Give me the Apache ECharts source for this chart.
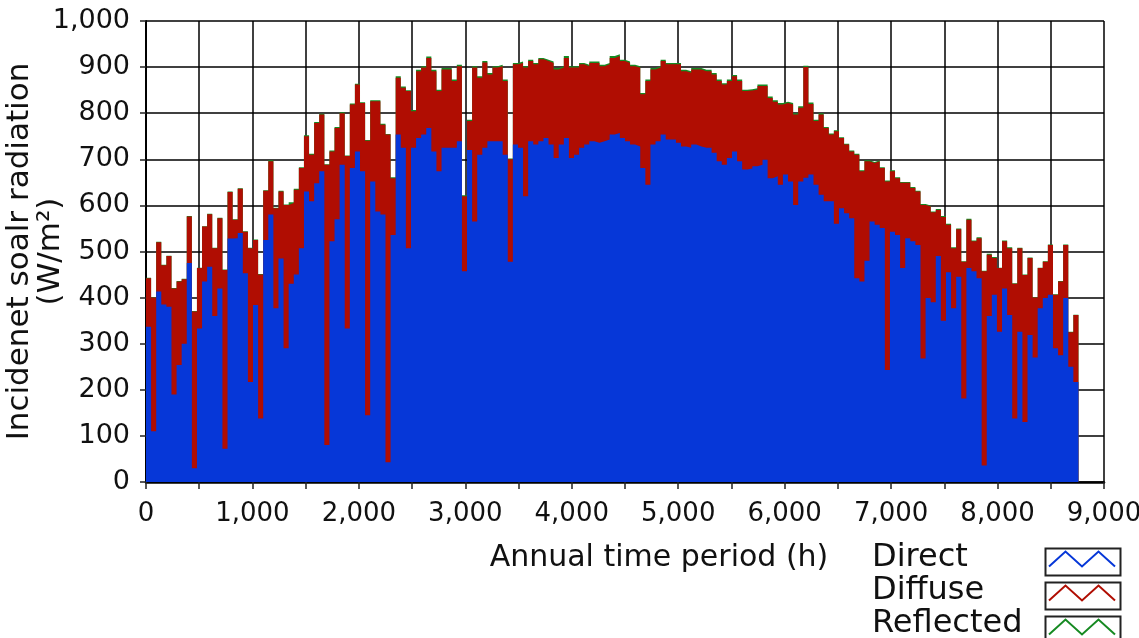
<!DOCTYPE html>
<html>
<head>
<meta charset="utf-8">
<script src="https://cdn.jsdelivr.net/npm/echarts@6/dist/echarts.min.js"></script>
<style>
html,body{margin:0;padding:0;background:#fff;}
#chart{width:1139px;height:638px;}
</style>
</head>
<body>
<div id="chart"></div>
<script>
// Annual hourly period, sampled in 183 consecutive bins of ~48 h (0 .. 8760 h)
const yearHours = 8760;
const seriesNames = ['Direct', 'Diffuse', 'Reflected'];
const xTicks = [0, 1000, 2000, 3000, 4000, 5000, 6000, 7000, 8000, 9000];
const yTicks = [0, 100, 200, 300, 400, 500, 600, 700, 800, 900, 1000];

// Direct radiation per bin (W/m2)
const direct = [
337,110,413,385,380,190,254,300,475,30,
333,435,467,360,420,72,528,529,540,453,
217,384,138,525,580,377,485,290,430,450,
507,630,609,648,674,80,522,570,688,333,
681,717,674,145,652,587,580,43,536,754,
725,507,725,746,754,768,717,674,725,725,
725,739,457,720,565,710,725,739,739,739,
710,478,732,725,620,739,732,739,746,732,
703,732,746,703,710,725,732,739,736,739,
743,754,757,746,739,732,728,681,645,732,
739,754,743,743,736,728,725,732,728,725,
725,714,696,688,703,717,696,678,680,685,
688,699,659,663,645,667,652,601,652,660,
667,645,623,609,609,560,594,583,572,442,
435,480,565,558,551,243,543,536,464,529,
522,514,268,399,390,490,350,455,377,445,
181,464,457,442,36,360,406,326,420,362,
138,326,130,319,270,377,399,406,290,275,
399,250,217];

// Diffuse radiation per bin (W/m2)
const diffuse = [
105,290,107,85,110,230,181,140,101,340,
131,119,114,147,152,388,101,40,96,90,
290,141,312,107,116,217,145,311,175,184,
174,120,101,131,123,608,195,198,112,374,
138,145,148,595,174,239,195,711,123,123,
130,341,79,145,145,152,174,174,170,170,
145,163,163,63,334,167,185,145,160,163,
160,222,174,184,279,174,174,178,167,177,
192,167,174,196,189,181,170,170,173,163,
163,166,167,167,170,170,171,160,225,163,
160,159,163,163,170,163,163,163,167,166,
166,170,174,174,167,163,174,170,169,166,
171,160,174,162,174,155,167,196,160,240,
153,138,174,159,145,201,152,149,145,268,
239,216,127,138,130,409,131,123,185,120,
116,116,333,199,195,100,225,103,130,103,
297,105,65,87,421,133,80,138,102,145,
292,181,319,167,130,87,79,108,116,160,
115,75,145];

// Reflected radiation per bin (W/m2)
const reflected = [
1,1,1,1,1,1,1,1,1,1,
1,1,1,1,1,1,1,1,1,1,
1,1,1,1,2,1,2,1,2,2,
2,2,2,2,2,1,2,2,2,1,
2,2,2,2,2,2,2,1,2,3,
3,2,3,3,3,3,3,3,3,3,
3,3,2,3,3,3,3,3,3,3,
3,2,3,3,3,3,3,3,3,3,
3,3,4,3,3,3,3,3,3,3,
3,4,4,3,3,3,3,3,3,3,
3,3,3,3,3,3,3,3,3,3,
3,3,3,3,3,3,3,3,3,3,
3,3,3,3,3,3,3,3,3,3,
3,3,3,2,2,2,2,2,2,2,
2,2,2,2,2,2,2,2,2,2,
2,2,2,2,2,2,2,2,2,2,
1,2,2,2,1,2,2,1,2,2,
1,1,1,1,1,1,1,1,1,1,
1,1,1];

const colors = { Direct: '#0637d8', Diffuse: '#b00d02', Reflected: '#168a22' };
const FONT = 'DejaVu Sans';

// bin start hours
const nBins = direct.length;
const binLen = yearHours / nBins;
function buildLine(levels) {
  const pts = [];
  for (let k = 0; k < nBins; k++) {
    pts.push([k * binLen, levels[k]]);
  }
  pts.push([yearHours, levels[nBins - 1]]);
  return pts;
}
// cumulative levels (areas drawn overlapping from zero)
const lvlDirect = direct.slice();
const lvlDiffuse = direct.map((v, i) => v + diffuse[i]);
const lvlReflected = lvlDiffuse.map((v, i) => v + reflected[i]);

function fmt(v) { return v.toLocaleString('en-US'); }

const chart = echarts.init(document.getElementById('chart'), null, { renderer: 'canvas' });

const zig = 'path://M0,14 L8,2 L16,14 L24,2 L32,14';

const option = {
  animation: false,
  backgroundColor: '#ffffff',
  textStyle: { fontFamily: FONT },
  grid: { left: 146, right: 35, top: 21, bottom: 156, containLabel: false, outerBoundsMode: 'none' },
  xAxis: {
    type: 'value', min: xTicks[0], max: xTicks[xTicks.length - 1], interval: 500,
    name: 'Annual time period (h)', nameLocation: 'middle', nameGap: 61, nameMoveOverlap: false,
    nameTextStyle: { fontFamily: FONT, fontSize: 30, color: '#111', padding: [0, 0, 0, 68] },
    axisLine: { show: true, onZero: false, lineStyle: { color: '#000', width: 2.5 } },
    axisTick: { show: true, length: 7, lineStyle: { color: '#222', width: 1.5 } },
    axisLabel: {
      fontFamily: FONT, fontSize: 26, color: '#111', margin: 19,
      formatter: v => (xTicks.indexOf(v) >= 0 ? fmt(v) : '')
    },
    splitLine: { show: true, lineStyle: { color: '#000', width: 1.5 } }
  },
  yAxis: {
    type: 'value', min: yTicks[0], max: yTicks[yTicks.length - 1], interval: 100,
    name: 'Incidenet soalr radiation\n(W/m\u00B2)', nameLocation: 'middle', nameGap: 80, nameRotate: 90,
    nameMoveOverlap: false,
    nameTextStyle: { fontFamily: FONT, fontSize: 31, lineHeight: 31, color: '#111' },
    axisLine: { show: true, lineStyle: { color: '#000', width: 2 } },
    axisTick: { show: true, length: 6, lineStyle: { color: '#222', width: 1.5 } },
    axisLabel: { fontFamily: FONT, fontSize: 27, color: '#111', margin: 16, formatter: v => fmt(v) },
    splitLine: { show: true, lineStyle: { color: '#000', width: 1.5 } }
  },
  legend: [
    {
      data: seriesNames, orient: 'vertical', left: 866, top: 541, height: 120, padding: 0, itemGap: 0,
      selectedMode: false, icon: 'rect', itemWidth: 1, itemHeight: 14,
      itemStyle: { color: 'rgba(0,0,0,0)', borderWidth: 0 },
      textStyle: { fontFamily: FONT, fontSize: 32, lineHeight: 33, color: '#111' }
    },
    {
      data: seriesNames.map(n => ({
        name: n, icon: zig,
        itemStyle: { color: 'rgba(0,0,0,0)', borderColor: colors[n], borderWidth: 2 }
      })),
      orient: 'vertical', left: 1048, top: 542, height: 120, padding: 0, itemGap: 0, selectedMode: false,
      itemWidth: 66, itemHeight: 15, symbolKeepAspect: false,
      textStyle: { fontFamily: FONT, fontSize: 10, lineHeight: 34, color: 'rgba(0,0,0,0)' }
    }
  ],
  graphic: [0, 1, 2].map(i => ({
    type: 'rect', left: 1043, top: 546 + i * 34,
    shape: { x: 0, y: 0, width: 75, height: 27 },
    style: { fill: 'none', stroke: '#222', lineWidth: 2 }, silent: true, z: 100
  })),
  series: [
    {
      name: 'Reflected', type: 'line', step: 'end', showSymbol: false, symbol: 'none',
      data: buildLine(lvlReflected), z: 2,
      itemStyle: { color: colors.Reflected },
      lineStyle: { width: 0, color: colors.Reflected },
      areaStyle: { color: colors.Reflected, opacity: 1 }
    },
    {
      name: 'Diffuse', type: 'line', step: 'end', showSymbol: false, symbol: 'none',
      data: buildLine(lvlDiffuse), z: 3,
      itemStyle: { color: colors.Diffuse },
      lineStyle: { width: 0, color: colors.Diffuse },
      areaStyle: { color: colors.Diffuse, opacity: 1 }
    },
    {
      name: 'Direct', type: 'line', step: 'end', showSymbol: false, symbol: 'none',
      data: buildLine(lvlDirect), z: 4,
      itemStyle: { color: colors.Direct },
      lineStyle: { width: 0, color: colors.Direct },
      areaStyle: { color: colors.Direct, opacity: 1 }
    }
  ]
};
chart.setOption(option);
</script>
</body>
</html>
